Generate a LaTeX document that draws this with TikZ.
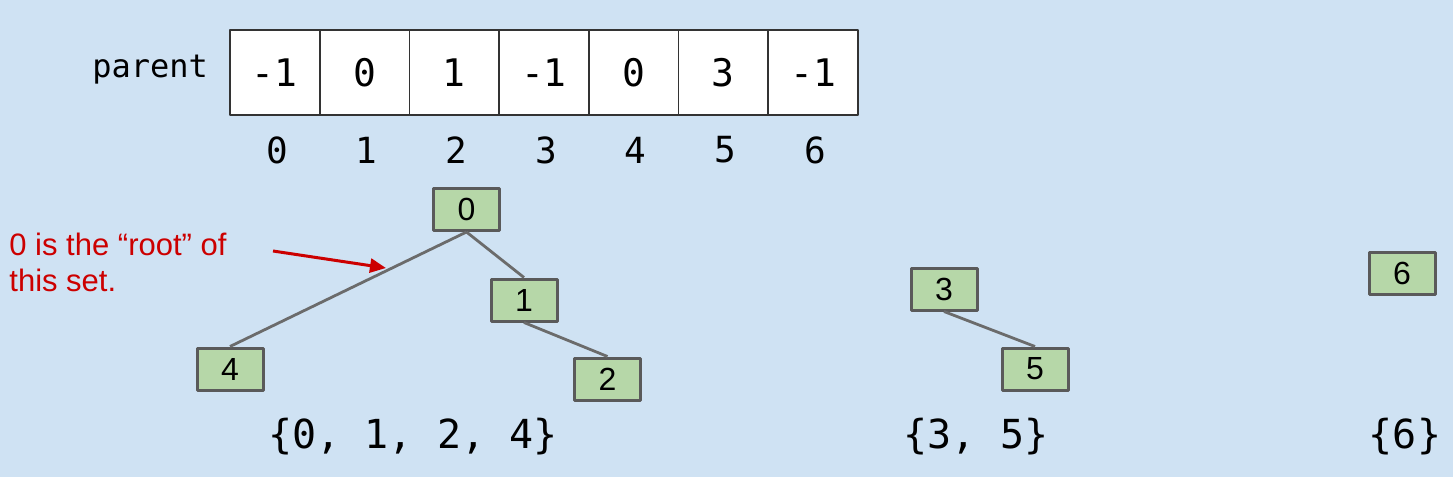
\documentclass[tikz,border=0pt]{standalone}
\usepackage{fontspec}
\newfontfamily\codefont{DejaVu Sans Mono}
\newfontfamily\slidefont{Liberation Sans}
\usetikzlibrary{arrows.meta}
\definecolor{slidebg}{RGB}{207,226,243}
\definecolor{setgreen}{RGB}{182,215,168}
\definecolor{setborder}{RGB}{90,90,90}
\definecolor{notered}{RGB}{204,0,0}

\begin{document}
\begin{tikzpicture}[x=0.5pt, y=-0.5pt, >={Triangle[length=8pt,width=7pt]}, line join=round,
    cell/.style={draw=black!80, line width=0.8pt, fill=white, inner sep=0pt,
        minimum width=44.85pt, minimum height=42.5pt,
        font=\codefont\fontsize{19}{19}\selectfont},
    idx/.style={font=\codefont\fontsize{18}{18}\selectfont},
    elem/.style={draw=setborder, line width=1.5pt, fill=setgreen, inner sep=0pt,
        minimum width=33pt, minimum height=21pt,
        font=\slidefont\fontsize{16}{16}\selectfont},
    link/.style={draw=setborder!90, line width=1.4pt},
    setlabel/.style={font=\codefont\fontsize{20}{20}\selectfont}]

    % Background
    \fill[slidebg] (0,0) rectangle (1453,477);
    \useasboundingbox (0,0) rectangle (1453,477);

    % Parent array
    \node[font=\codefont\fontsize{16}{16}\selectfont, anchor=east] (lbl) at (215,70) {parent};
    \foreach \v [count=\i from 0] in {-1,0,1,-1,0,3,-1} {
        \node[cell] (c\i) at ({274.85+89.7*\i},72.5) {\v};
        \node[idx] (n\i) at ({277+89.7*\i},150) {\i};
    }

    % Tree for {0,1,2,4}
    \node[elem] (e0) at (466.5,209.5) {0};
    \node[elem] (e1) at (524,300) {1};
    \node[elem] (e4) at (230,369) {4};
    \node[elem] (e2) at (607.5,379) {2};
    \draw[link] (e0.south) -- (e4.north);
    \draw[link] (e0.south) -- (e1.north);
    \draw[link] (e1.south) -- (e2.north);

    % Tree for {3,5}
    \node[elem] (e3) at (944,289) {3};
    \node[elem] (e5) at (1035,369) {5};
    \draw[link] (e3.south) -- (e5.north);

    % Single element {6}
    \node[elem] (e6) at (1402,273) {6};

    % Set labels
    \node[setlabel] (s0) at (413,437) {\{0, 1, 2, 4\}};
    \node[setlabel] (s3) at (976,437) {\{3, 5\}};
    \node[setlabel] (s6) at (1405,437) {\{6\}};

    % Note on the root
    \node[anchor=north west, align=left, text=notered, inner sep=0pt,
        font=\slidefont\fontsize{15.5}{18}\selectfont] (note) at (9,233)
        {0 is the “root” of\\this set.};
    \coordinate (arrowFrom) at (273,251);
    \coordinate (arrowTo) at (386,268);
    \draw[->, notered, line width=1.5pt] (arrowFrom) -- (arrowTo);
\end{tikzpicture}
\end{document}
